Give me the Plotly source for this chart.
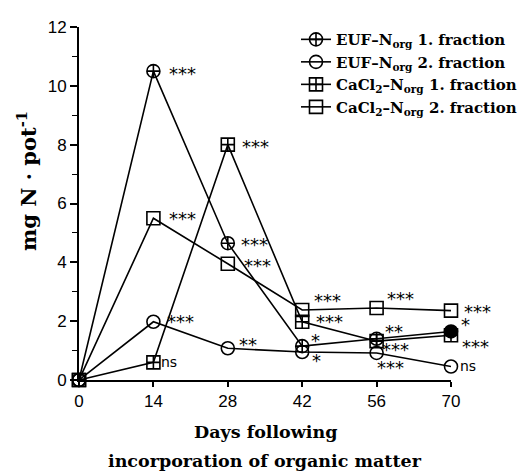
import plotly.graph_objects as go

# ---------------- data ----------------
days = [0, 14, 28, 42, 56, 70]
euf1 = [0, 10.5, 4.65, 1.15, 1.4, 1.65]
euf2 = [0, 1.98, 1.08, 0.95, 0.92, 0.46]
cacl1 = [0, 0.6, 8.0, 1.98, 1.32, 1.52]
cacl2 = [0, 5.5, 3.95, 2.38, 2.45, 2.36]

names = ["<b>EUF\u2013N<sub>org</sub> 1. fraction</b>",
         "<b>EUF\u2013N<sub>org</sub> 2. fraction</b>",
         "<b>CaCl<sub>2</sub>\u2013N<sub>org</sub> 1. fraction</b>",
         "<b>CaCl<sub>2</sub>\u2013N<sub>org</sub> 2. fraction</b>"]

sig_euf1 = ["", "***", "***", "*", "**", "*"]
sig_euf2 = ["", "***", "**", "*", "***", "ns"]
sig_cacl1 = ["", "ns", "***", "***", "***", "***"]
sig_cacl2 = ["", "***", "***", "***", "***", "***"]

y_ticks = [0, 2, 4, 6, 8, 10, 12]
x_ticks = [0, 14, 28, 42, 56, 70]

# ---------------- styles ----------------
series = [euf1, euf2, cacl1, cacl2]
sigs = [sig_euf1, sig_euf2, sig_cacl1, sig_cacl2]
symbols = [["circle-cross-open"] * 5 + ["circle"],
           "circle-open", "square-cross-open", "square-open"]
# label offsets (px) relative to the point: dx, dy(up)
offsets = [
    [(0, 0), (29, 0), (27, 1), (13, 8), (17, 9), (14, 9)],
    [(0, 0), (27, 2), (20, 6), (14, -6), (14, -13), (17, 0)],
    [(0, 0), (16, 0), (28, 0), (27, 2), (19, -6), (24, -9)],
    [(0, 0), (29, 2), (30, 0), (25, 11), (24, 11), (26, 1)],
]

# body of the page has an 8px default margin; compensate
W, H = 532 - 8, 472 - 8
ML, MR, MT, MB = 79 - 8, 81, 18 - 8, 92
PW, PH = W - ML - MR, H - MT - MB   # plot area size in px


def px_to_paper(px, py):
    """reference-image pixel -> paper coords"""
    return (px - 79) / PW, (380 - py) / PH


fig = go.Figure()
for vals, nm, sym in zip(series, names, symbols):
    fig.add_trace(go.Scatter(
        x=days, y=vals, name=nm, mode="lines+markers",
        line=dict(color="black", width=1.6),
        marker=dict(symbol=sym, size=13, color="black",
                    line=dict(color="black", width=1.6)),
        cliponaxis=False,
    ))

annotations = []
for vals, sg, offs in zip(series, sigs, offsets):
    for d, v, s, (dx, dy) in zip(days, vals, sg, offs):
        if not s:
            continue
        star = s.startswith("*")
        annotations.append(dict(
            x=d, y=v, xref="x", yref="y", text=s, showarrow=False,
            xanchor="center", yanchor="middle",
            xshift=dx, yshift=dy - (2 if star else 0),
            font=dict(family="DejaVu Sans", size=18 if star else 14,
                      color="black"),
        ))

serif = "DejaVu Serif"
x1, y1 = px_to_paper(265, 433)
x2, y2 = px_to_paper(265, 463)
xt, yt = px_to_paper(27, 176)
annotations += [
    dict(text="<b>Days following</b>", x=x1, y=y1,
         xref="paper", yref="paper", showarrow=False,
         xanchor="center", yanchor="middle",
         font=dict(family=serif, size=17.5, color="black")),
    dict(text="<b>incorporation of organic matter</b>", x=x2, y=y2,
         xref="paper", yref="paper",
         showarrow=False, xanchor="center", yanchor="middle",
         font=dict(family=serif, size=17.5, color="black")),
    dict(text="<b>mg N \u00b7 pot<sup>-1</sup></b>", x=xt, y=yt,
         xref="paper", yref="paper", showarrow=False, textangle=-90,
         xanchor="center", yanchor="middle",
         font=dict(family=serif, size=21, color="black")),
]

lx, ly = px_to_paper(296, 14)

fig.update_layout(
    width=W, height=H, autosize=False,
    margin=dict(l=ML, r=MR, t=MT, b=MB),
    paper_bgcolor="white", plot_bgcolor="white",
    showlegend=True,
    legend=dict(x=lx, y=ly, xanchor="left", yanchor="top",
                bgcolor="rgba(0,0,0,0)",
                font=dict(family=serif, size=15, color="black"),
                itemwidth=30, tracegroupgap=0),
    xaxis=dict(range=[0, 70], tickvals=x_ticks, ticktext=[str(t) for t in x_ticks],
               showgrid=False, zeroline=False, showline=True,
               linecolor="black", linewidth=1.8, ticks="outside",
               ticklen=5, tickwidth=1.6, tickcolor="black",
               tickfont=dict(family="Liberation Sans", size=17, color="black")),
    yaxis=dict(range=[0, 12], tickvals=y_ticks, ticktext=[str(t) for t in y_ticks],
               showgrid=False, zeroline=False, showline=True,
               linecolor="black", linewidth=1.8, ticks="outside",
               ticklen=7, tickwidth=1.6, tickcolor="black",
               minor=dict(dtick=1, ticks="outside", ticklen=5,
                          tickwidth=1.4, tickcolor="black"),
               tickfont=dict(family="Liberation Sans", size=17, color="black")),
    annotations=annotations,
)

fig.write_html("out.html")
